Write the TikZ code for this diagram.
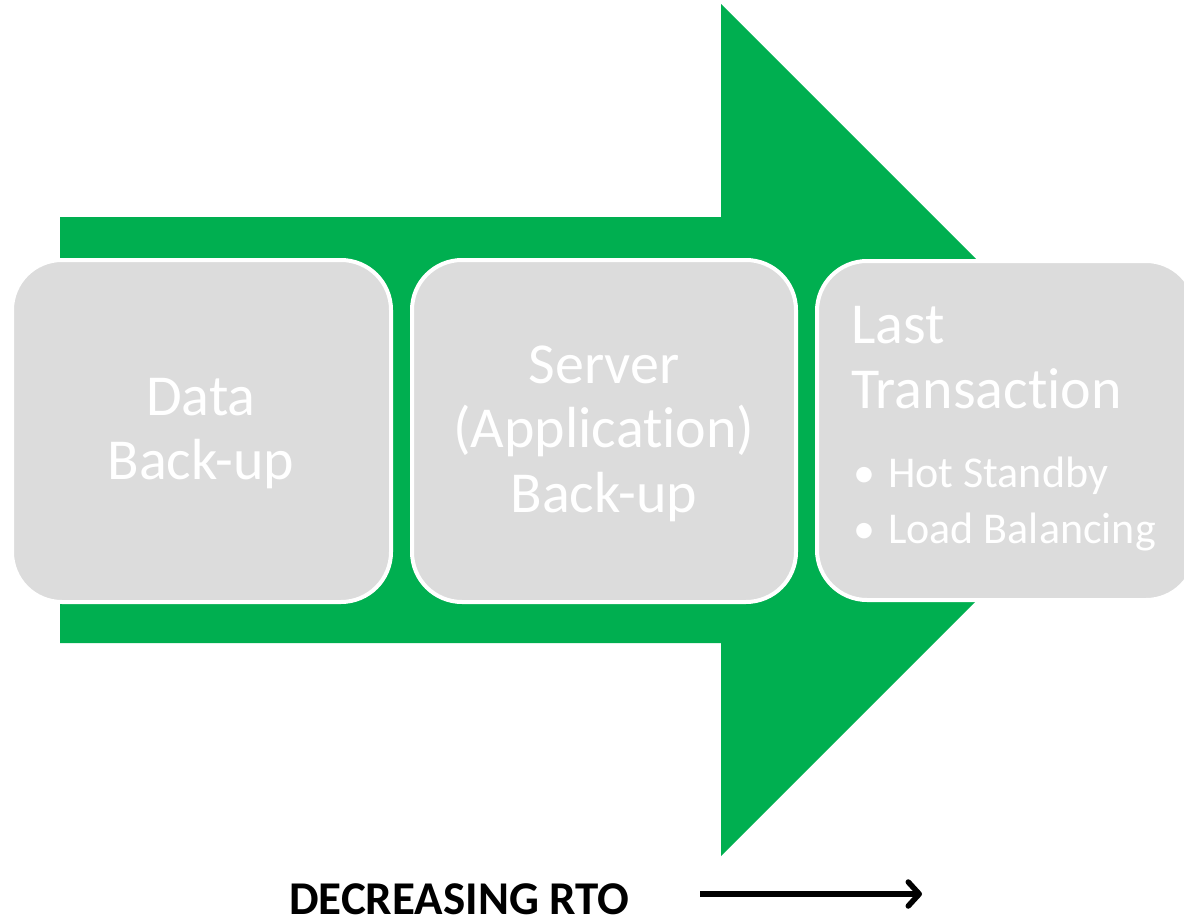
\documentclass[tikz,border=0pt]{standalone}
\usepackage{fontspec}
\setmainfont{Carlito}[Ligatures={NoCommon,NoRequired,NoContextual}]
\usetikzlibrary{arrows.meta}
\definecolor{arrowgreen}{HTML}{00AF50}
\definecolor{boxgray}{HTML}{DCDCDC}
\tikzset{
  stagebox/.style={draw=white, line width=4pt, fill=boxgray, rounded corners=50pt},
  bigtext/.style={text=white, inner sep=0pt, anchor=base, font=\fontsize{58}{64}\selectfont},
  bigleft/.style={bigtext, anchor=base west},
  bullettext/.style={text=white, inner sep=0pt, anchor=base west, font=\fontsize{44}{56}\selectfont},
  rtolabel/.style={inner sep=0pt, anchor=base west, font=\bfseries\fontsize{47}{50}\selectfont},
}
\begin{document}
\begin{tikzpicture}[x=1pt, y=-1pt]
\useasboundingbox (0,0) rectangle (1184,921);
\clip (0,0) rectangle (1184,921);
% big green arrow
\fill[arrowgreen] (60,217) -- (721,217) -- (721,4) -- (1147,430) -- (721,856) -- (721,643) -- (60,643) -- cycle;
% boxes
\draw[stagebox] (12,260) rectangle (391,602);
\draw[stagebox] (412,260) rectangle (796,602);
\draw[stagebox] (817,261) rectangle (1196,600);
% box 1 text
\node[bigtext] (d1) at (201,415) {Data};
\node[bigtext] (d2) at (201,479) {Back-up};
% box 2 text
\node[bigtext] (s1) at (604,383) {Server};
\node[bigtext] (s2) at (604,447) {(Application)};
\node[bigtext] (s3) at (604,512) {Back-up};
% box 3 text
\node[bigleft] (l1) at (851,343) {Last};
\node[bigleft] (l2) at (851,408) {Transaction};
\node[bullettext] (b1) at (853,487) {\makebox[35pt][l]{•}Hot Standby};
\node[bullettext] (b2) at (853,543) {\makebox[35pt][l]{•}Load Balancing};
% bottom label and arrow
\node[rtolabel] (rto) at (289,914) {DECREASING RTO};
\coordinate (as) at (700,894);
\coordinate (ae) at (922,894);
\draw[line width=5.5pt, -{Straight Barb[length=11pt, width=24pt, round]}] (as) -- (ae);
\end{tikzpicture}
\end{document}
